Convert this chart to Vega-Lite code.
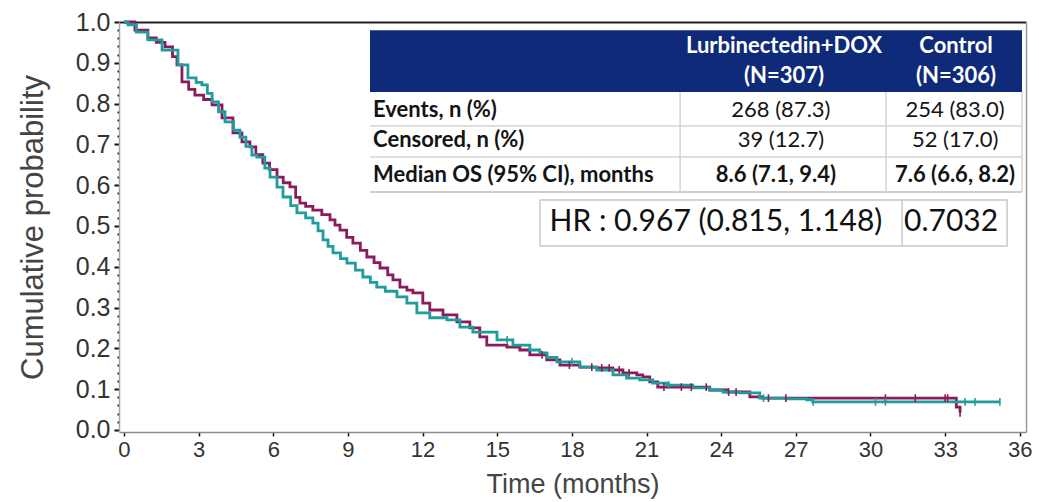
{
  "$schema": "https://vega.github.io/schema/vega-lite/v6.json",
  "width": 907,
  "height": 410,
  "autosize": "none",
  "padding": {"left": 119, "top": 22, "right": 13, "bottom": 70},
  "background": "white",
  "config": {
    "view": {"stroke": null},
    "font": "Liberation Sans",
    "text": {"font": "Lato"}
  },
  "datasets": {
    "curves": [
      {"arm": "Lurbinectedin+DOX", "t": 0, "p": 1.0},
      {"arm": "Lurbinectedin+DOX", "t": 0.44, "p": 0.98},
      {"arm": "Lurbinectedin+DOX", "t": 0.96, "p": 0.961},
      {"arm": "Lurbinectedin+DOX", "t": 1.3, "p": 0.95},
      {"arm": "Lurbinectedin+DOX", "t": 1.65, "p": 0.939},
      {"arm": "Lurbinectedin+DOX", "t": 1.95, "p": 0.915},
      {"arm": "Lurbinectedin+DOX", "t": 2.13, "p": 0.895},
      {"arm": "Lurbinectedin+DOX", "t": 2.33, "p": 0.853},
      {"arm": "Lurbinectedin+DOX", "t": 2.6, "p": 0.835},
      {"arm": "Lurbinectedin+DOX", "t": 2.85, "p": 0.821},
      {"arm": "Lurbinectedin+DOX", "t": 3.2, "p": 0.81},
      {"arm": "Lurbinectedin+DOX", "t": 3.54, "p": 0.797},
      {"arm": "Lurbinectedin+DOX", "t": 3.94, "p": 0.765},
      {"arm": "Lurbinectedin+DOX", "t": 4.38, "p": 0.728},
      {"arm": "Lurbinectedin+DOX", "t": 4.74, "p": 0.706},
      {"arm": "Lurbinectedin+DOX", "t": 5.06, "p": 0.694},
      {"arm": "Lurbinectedin+DOX", "t": 5.3, "p": 0.675},
      {"arm": "Lurbinectedin+DOX", "t": 5.58, "p": 0.654},
      {"arm": "Lurbinectedin+DOX", "t": 5.85, "p": 0.638},
      {"arm": "Lurbinectedin+DOX", "t": 6.15, "p": 0.62},
      {"arm": "Lurbinectedin+DOX", "t": 6.4, "p": 0.606},
      {"arm": "Lurbinectedin+DOX", "t": 6.67, "p": 0.596},
      {"arm": "Lurbinectedin+DOX", "t": 6.9, "p": 0.57},
      {"arm": "Lurbinectedin+DOX", "t": 7.07, "p": 0.556},
      {"arm": "Lurbinectedin+DOX", "t": 7.3, "p": 0.548},
      {"arm": "Lurbinectedin+DOX", "t": 7.59, "p": 0.539},
      {"arm": "Lurbinectedin+DOX", "t": 7.95, "p": 0.528},
      {"arm": "Lurbinectedin+DOX", "t": 8.28, "p": 0.515},
      {"arm": "Lurbinectedin+DOX", "t": 8.48, "p": 0.502},
      {"arm": "Lurbinectedin+DOX", "t": 8.68, "p": 0.49},
      {"arm": "Lurbinectedin+DOX", "t": 8.95, "p": 0.472},
      {"arm": "Lurbinectedin+DOX", "t": 9.2, "p": 0.458},
      {"arm": "Lurbinectedin+DOX", "t": 9.5, "p": 0.44},
      {"arm": "Lurbinectedin+DOX", "t": 9.76, "p": 0.424},
      {"arm": "Lurbinectedin+DOX", "t": 10.05, "p": 0.41},
      {"arm": "Lurbinectedin+DOX", "t": 10.29, "p": 0.397},
      {"arm": "Lurbinectedin+DOX", "t": 10.6, "p": 0.38},
      {"arm": "Lurbinectedin+DOX", "t": 10.81, "p": 0.368},
      {"arm": "Lurbinectedin+DOX", "t": 11.09, "p": 0.35},
      {"arm": "Lurbinectedin+DOX", "t": 11.37, "p": 0.343},
      {"arm": "Lurbinectedin+DOX", "t": 11.61, "p": 0.336},
      {"arm": "Lurbinectedin+DOX", "t": 12.01, "p": 0.311},
      {"arm": "Lurbinectedin+DOX", "t": 12.29, "p": 0.294},
      {"arm": "Lurbinectedin+DOX", "t": 12.82, "p": 0.282},
      {"arm": "Lurbinectedin+DOX", "t": 13.38, "p": 0.265},
      {"arm": "Lurbinectedin+DOX", "t": 13.9, "p": 0.25},
      {"arm": "Lurbinectedin+DOX", "t": 14.3, "p": 0.228},
      {"arm": "Lurbinectedin+DOX", "t": 14.58, "p": 0.208},
      {"arm": "Lurbinectedin+DOX", "t": 15.39, "p": 0.203},
      {"arm": "Lurbinectedin+DOX", "t": 15.91, "p": 0.196},
      {"arm": "Lurbinectedin+DOX", "t": 16.31, "p": 0.184},
      {"arm": "Lurbinectedin+DOX", "t": 16.99, "p": 0.172},
      {"arm": "Lurbinectedin+DOX", "t": 17.52, "p": 0.159},
      {"arm": "Lurbinectedin+DOX", "t": 18.32, "p": 0.154},
      {"arm": "Lurbinectedin+DOX", "t": 19.0, "p": 0.152},
      {"arm": "Lurbinectedin+DOX", "t": 19.65, "p": 0.147},
      {"arm": "Lurbinectedin+DOX", "t": 20.05, "p": 0.14},
      {"arm": "Lurbinectedin+DOX", "t": 20.61, "p": 0.135},
      {"arm": "Lurbinectedin+DOX", "t": 20.85, "p": 0.13},
      {"arm": "Lurbinectedin+DOX", "t": 21.13, "p": 0.118},
      {"arm": "Lurbinectedin+DOX", "t": 21.45, "p": 0.105},
      {"arm": "Lurbinectedin+DOX", "t": 23.54, "p": 0.098},
      {"arm": "Lurbinectedin+DOX", "t": 24.23, "p": 0.093},
      {"arm": "Lurbinectedin+DOX", "t": 25.15, "p": 0.081},
      {"arm": "Lurbinectedin+DOX", "t": 25.67, "p": 0.078},
      {"arm": "Lurbinectedin+DOX", "t": 33.45, "p": 0.056},
      {"arm": "Lurbinectedin+DOX", "t": 33.6, "p": 0.042},
      {"arm": "Control", "t": 0, "p": 1.0},
      {"arm": "Control", "t": 0.16, "p": 0.993},
      {"arm": "Control", "t": 0.5, "p": 0.975},
      {"arm": "Control", "t": 0.96, "p": 0.956},
      {"arm": "Control", "t": 1.53, "p": 0.931},
      {"arm": "Control", "t": 2.17, "p": 0.895},
      {"arm": "Control", "t": 2.57, "p": 0.863},
      {"arm": "Control", "t": 2.9, "p": 0.852},
      {"arm": "Control", "t": 3.13, "p": 0.846},
      {"arm": "Control", "t": 3.35, "p": 0.825},
      {"arm": "Control", "t": 3.54, "p": 0.804},
      {"arm": "Control", "t": 3.8, "p": 0.78},
      {"arm": "Control", "t": 4.06, "p": 0.755},
      {"arm": "Control", "t": 4.4, "p": 0.735},
      {"arm": "Control", "t": 4.66, "p": 0.718},
      {"arm": "Control", "t": 4.9, "p": 0.695},
      {"arm": "Control", "t": 5.14, "p": 0.674},
      {"arm": "Control", "t": 5.34, "p": 0.669},
      {"arm": "Control", "t": 5.66, "p": 0.642},
      {"arm": "Control", "t": 5.87, "p": 0.62},
      {"arm": "Control", "t": 6.15, "p": 0.595},
      {"arm": "Control", "t": 6.39, "p": 0.571},
      {"arm": "Control", "t": 6.7, "p": 0.55},
      {"arm": "Control", "t": 6.95, "p": 0.532},
      {"arm": "Control", "t": 7.3, "p": 0.52},
      {"arm": "Control", "t": 7.59, "p": 0.507},
      {"arm": "Control", "t": 7.8, "p": 0.488},
      {"arm": "Control", "t": 8.0, "p": 0.466},
      {"arm": "Control", "t": 8.2, "p": 0.45},
      {"arm": "Control", "t": 8.4, "p": 0.434},
      {"arm": "Control", "t": 8.7, "p": 0.42},
      {"arm": "Control", "t": 8.96, "p": 0.409},
      {"arm": "Control", "t": 9.3, "p": 0.392},
      {"arm": "Control", "t": 9.6, "p": 0.375},
      {"arm": "Control", "t": 9.9, "p": 0.362},
      {"arm": "Control", "t": 10.16, "p": 0.35},
      {"arm": "Control", "t": 10.5, "p": 0.34},
      {"arm": "Control", "t": 10.97, "p": 0.326},
      {"arm": "Control", "t": 11.37, "p": 0.311},
      {"arm": "Control", "t": 11.77, "p": 0.287},
      {"arm": "Control", "t": 12.29, "p": 0.275},
      {"arm": "Control", "t": 12.98, "p": 0.27},
      {"arm": "Control", "t": 13.5, "p": 0.252},
      {"arm": "Control", "t": 14.02, "p": 0.24},
      {"arm": "Control", "t": 14.99, "p": 0.221},
      {"arm": "Control", "t": 15.63, "p": 0.208},
      {"arm": "Control", "t": 16.31, "p": 0.196},
      {"arm": "Control", "t": 16.71, "p": 0.189},
      {"arm": "Control", "t": 17.0, "p": 0.178},
      {"arm": "Control", "t": 17.4, "p": 0.167},
      {"arm": "Control", "t": 18.32, "p": 0.154},
      {"arm": "Control", "t": 19.0, "p": 0.147},
      {"arm": "Control", "t": 19.65, "p": 0.135},
      {"arm": "Control", "t": 20.2, "p": 0.127},
      {"arm": "Control", "t": 20.73, "p": 0.123},
      {"arm": "Control", "t": 21.25, "p": 0.115},
      {"arm": "Control", "t": 21.82, "p": 0.11},
      {"arm": "Control", "t": 22.86, "p": 0.103},
      {"arm": "Control", "t": 23.54, "p": 0.098},
      {"arm": "Control", "t": 24.07, "p": 0.093},
      {"arm": "Control", "t": 24.75, "p": 0.091},
      {"arm": "Control", "t": 25.55, "p": 0.078},
      {"arm": "Control", "t": 26.64, "p": 0.076},
      {"arm": "Control", "t": 27.44, "p": 0.074},
      {"arm": "Control", "t": 27.68, "p": 0.069},
      {"arm": "Control", "t": 35.2, "p": 0.069}
    ],
    "censored": [
      {"arm": "Lurbinectedin+DOX", "t": 16.8, "p": 0.184},
      {"arm": "Lurbinectedin+DOX", "t": 17.9, "p": 0.159},
      {"arm": "Lurbinectedin+DOX", "t": 18.8, "p": 0.154},
      {"arm": "Lurbinectedin+DOX", "t": 19.2, "p": 0.152},
      {"arm": "Lurbinectedin+DOX", "t": 19.5, "p": 0.152},
      {"arm": "Lurbinectedin+DOX", "t": 19.9, "p": 0.147},
      {"arm": "Lurbinectedin+DOX", "t": 20.3, "p": 0.14},
      {"arm": "Lurbinectedin+DOX", "t": 21.7, "p": 0.105},
      {"arm": "Lurbinectedin+DOX", "t": 22.4, "p": 0.105},
      {"arm": "Lurbinectedin+DOX", "t": 22.8, "p": 0.105},
      {"arm": "Lurbinectedin+DOX", "t": 23.4, "p": 0.105},
      {"arm": "Lurbinectedin+DOX", "t": 24.3, "p": 0.093},
      {"arm": "Lurbinectedin+DOX", "t": 24.6, "p": 0.093},
      {"arm": "Lurbinectedin+DOX", "t": 25.9, "p": 0.078},
      {"arm": "Lurbinectedin+DOX", "t": 26.6, "p": 0.078},
      {"arm": "Lurbinectedin+DOX", "t": 30.6, "p": 0.078},
      {"arm": "Lurbinectedin+DOX", "t": 31.8, "p": 0.078},
      {"arm": "Lurbinectedin+DOX", "t": 33.0, "p": 0.078},
      {"arm": "Lurbinectedin+DOX", "t": 33.1, "p": 0.078},
      {"arm": "Lurbinectedin+DOX", "t": 33.6, "p": 0.042},
      {"arm": "Control", "t": 15.4, "p": 0.221},
      {"arm": "Control", "t": 18.0, "p": 0.167},
      {"arm": "Control", "t": 21.9, "p": 0.11},
      {"arm": "Control", "t": 25.7, "p": 0.078},
      {"arm": "Control", "t": 27.7, "p": 0.069},
      {"arm": "Control", "t": 30.2, "p": 0.069},
      {"arm": "Control", "t": 30.6, "p": 0.069},
      {"arm": "Control", "t": 33.8, "p": 0.069},
      {"arm": "Control", "t": 34.2, "p": 0.069},
      {"arm": "Control", "t": 35.2, "p": 0.069}
    ],
    "header": [
      {"arm": "Lurbinectedin+DOX", "n": "(N=307)"},
      {"arm": "Control", "n": "(N=306)"}
    ],
    "rows": [
      {"row": "Events, n (%)", "lurb": "268 (87.3)", "ctrl": "254 (83.0)"},
      {"row": "Censored, n (%)", "lurb": "39 (12.7)", "ctrl": "52 (17.0)"},
      {"row": "Median OS (95% CI), months", "lurb": "8.6 (7.1, 9.4)", "ctrl": "7.6 (6.6, 8.2)"}
    ],
    "hr": [
      {"hr": "HR : 0.967 (0.815, 1.148)", "pvalue": "0.7032"}
    ],
    "frame": [{"part": "table"}]
  },
  "layer": [
    {
      "data": {"name": "curves"},
      "mark": {"type": "line", "interpolate": "step-after", "strokeWidth": 2.8},
      "encoding": {
        "x": {
          "field": "t", "type": "quantitative",
          "scale": {"domain": [-0.2, 36.25], "nice": false, "zero": false},
          "axis": {
            "orient": "bottom", "title": "Time (months)",
            "values": [0, 3, 6, 9, 12, 15, 18, 21, 24, 27, 30, 33, 36],
            "format": "d", "grid": false, "labelFlush": false,
            "domainColor": "#8c8c8c", "domainWidth": 1.5,
            "tickColor": "#111111", "tickSize": 4, "tickWidth": 1.5,
            "labelFont": "Liberation Sans", "labelFontSize": 22, "labelColor": "#333333", "labelPadding": 3,
            "titleFont": "Liberation Sans", "titleFontSize": 27, "titleFontWeight": "normal", "titleColor": "#444444", "titlePadding": 11
          }
        },
        "y": {
          "field": "p", "type": "quantitative",
          "scale": {"domain": [-0.005, 1.0], "nice": false, "zero": false},
          "axis": {
            "orient": "left", "title": "Cumulative probability",
            "values": [0, 0.02, 0.04, 0.06, 0.08, 0.1, 0.12, 0.14, 0.16, 0.18, 0.2, 0.22, 0.24, 0.26, 0.28, 0.3, 0.32, 0.34, 0.36, 0.38, 0.4, 0.42, 0.44, 0.46, 0.48, 0.5, 0.52, 0.54, 0.56, 0.58, 0.6, 0.62, 0.64, 0.66, 0.68, 0.7, 0.72, 0.74, 0.76, 0.78, 0.8, 0.82, 0.84, 0.86, 0.88, 0.9, 0.92, 0.94, 0.96, 0.98, 1.0],
            "labelExpr": "abs(datum.value * 10 - round(datum.value * 10)) < 0.001 ? format(datum.value, '.1f') : ''",
            "labelOverlap": false, "labelFlush": false, "grid": false,
            "domainColor": "#a8a8a8", "domainWidth": 1.5,
            "tickColor": "#111111",
            "tickSize": {"condition": {"test": "abs(datum.value * 10 - round(datum.value * 10)) < 0.001", "value": 5}, "value": 2},
            "tickWidth": 2,
            "labelFont": "Liberation Sans", "labelFontSize": 25, "labelColor": "#333333", "labelPadding": 4,
            "titleFont": "Liberation Sans", "titleFontSize": 31, "titleFontWeight": "normal", "titleColor": "#444444", "titlePadding": 26
          }
        },
        "color": {
          "field": "arm", "type": "nominal",
          "scale": {"domain": ["Lurbinectedin+DOX", "Control"], "range": ["#8c1b5d", "#1f9c9c"]},
          "legend": null
        }
      }
    },
    {
      "data": {"name": "censored"},
      "mark": {"type": "point", "shape": "M0,-1L0,1", "filled": false, "size": 60, "strokeWidth": 1.6, "opacity": 1},
      "encoding": {
        "x": {
          "field": "t", "type": "quantitative",
          "axis": {"orient": "top", "title": null, "labels": false, "ticks": false, "grid": false, "domainColor": "#222222", "domainWidth": 2}
        },
        "y": {
          "field": "p", "type": "quantitative",
          "axis": {"orient": "right", "title": null, "labels": false, "ticks": false, "grid": false, "domainColor": "#9a9a9a", "domainWidth": 1.5}
        },
        "color": {"field": "arm", "type": "nominal", "legend": null}
      }
    },
    {
      "data": {"name": "frame"},
      "layer": [
        {
          "mark": {"type": "rect", "color": "#0f2a78"},
          "encoding": {
            "x": {"datum": 9.887, "axis": null}, "x2": {"datum": 36.09},
            "y": {"datum": 0.98, "axis": null}, "y2": {"datum": 0.8284}
          }
        },
        {
          "mark": {"type": "rule", "color": "#d4d4d4", "strokeWidth": 1.5},
          "encoding": {"x": {"datum": 9.887, "axis": null}, "x2": {"datum": 36.09}, "y": {"datum": 0.745, "axis": null}}
        },
        {
          "mark": {"type": "rule", "color": "#d4d4d4", "strokeWidth": 1.5},
          "encoding": {"x": {"datum": 9.887, "axis": null}, "x2": {"datum": 36.09}, "y": {"datum": 0.669, "axis": null}}
        },
        {
          "mark": {"type": "rule", "color": "#cfcfcf", "strokeWidth": 2},
          "encoding": {"x": {"datum": 9.887, "axis": null}, "x2": {"datum": 36.09}, "y": {"datum": 0.5833, "axis": null}}
        },
        {
          "mark": {"type": "rule", "color": "#d4d4d4", "strokeWidth": 1.5},
          "encoding": {"x": {"datum": 22.35, "axis": null}, "y": {"datum": 0.8284, "axis": null}, "y2": {"datum": 0.5833}}
        },
        {
          "mark": {"type": "rule", "color": "#d4d4d4", "strokeWidth": 1.5},
          "encoding": {"x": {"datum": 30.62, "axis": null}, "y": {"datum": 0.8284, "axis": null}, "y2": {"datum": 0.5833}}
        },
        {
          "mark": {"type": "rule", "color": "#d4d4d4", "strokeWidth": 1.5},
          "encoding": {"x": {"datum": 36.09, "axis": null}, "y": {"datum": 0.8284, "axis": null}, "y2": {"datum": 0.5833}}
        },
        {
          "mark": {"type": "rect", "fill": "white", "stroke": "#c8c8c8", "strokeWidth": 1.5},
          "encoding": {
            "x": {"datum": 16.72, "axis": null}, "x2": {"datum": 35.49},
            "y": {"datum": 0.5637, "axis": null}, "y2": {"datum": 0.4509}
          }
        },
        {
          "mark": {"type": "rule", "color": "#c8c8c8", "strokeWidth": 1.5},
          "encoding": {"x": {"datum": 31.27, "axis": null}, "y": {"datum": 0.5637, "axis": null}, "y2": {"datum": 0.4509}}
        }
      ]
    },
    {
      "data": {"name": "header"},
      "transform": [{"filter": "datum.arm === 'Lurbinectedin+DOX'"}],
      "encoding": {"x": {"datum": 26.525, "axis": null}},
      "layer": [
        {
          "mark": {"type": "text", "font": "Lato", "fontWeight": "bold", "fontSize": 22, "color": "white", "align": "center", "baseline": "middle"},
          "encoding": {"y": {"datum": 0.9412, "axis": null}, "text": {"field": "arm"}}
        },
        {
          "mark": {"type": "text", "font": "Lato", "fontWeight": "bold", "fontSize": 22, "color": "white", "align": "center", "baseline": "middle"},
          "encoding": {"y": {"datum": 0.8676, "axis": null}, "text": {"field": "n"}}
        }
      ]
    },
    {
      "data": {"name": "header"},
      "transform": [{"filter": "datum.arm === 'Control'"}],
      "encoding": {"x": {"datum": 33.44, "axis": null}},
      "layer": [
        {
          "mark": {"type": "text", "font": "Lato", "fontWeight": "bold", "fontSize": 22, "color": "white", "align": "center", "baseline": "middle"},
          "encoding": {"y": {"datum": 0.9412, "axis": null}, "text": {"field": "arm"}}
        },
        {
          "mark": {"type": "text", "font": "Lato", "fontWeight": "bold", "fontSize": 22, "color": "white", "align": "center", "baseline": "middle"},
          "encoding": {"y": {"datum": 0.8676, "axis": null}, "text": {"field": "n"}}
        }
      ]
    },
    {
      "data": {"name": "rows"},
      "transform": [{"filter": "datum.row === 'Events, n (%)'"}],
      "encoding": {"y": {"datum": 0.7843, "axis": null}},
      "layer": [
        {
          "mark": {"type": "text", "font": "Lato", "fontWeight": "bold", "fontSize": 22, "color": "#141414", "align": "left", "baseline": "middle"},
          "encoding": {"x": {"datum": 10.01, "axis": null}, "text": {"field": "row"}}
        },
        {
          "mark": {"type": "text", "font": "Lato", "fontSize": 22, "color": "#141414", "align": "center", "baseline": "middle"},
          "encoding": {"x": {"datum": 26.4, "axis": null}, "text": {"field": "lurb"}}
        },
        {
          "mark": {"type": "text", "font": "Lato", "fontSize": 22, "color": "#141414", "align": "center", "baseline": "middle"},
          "encoding": {"x": {"datum": 33.4, "axis": null}, "text": {"field": "ctrl"}}
        }
      ]
    },
    {
      "data": {"name": "rows"},
      "transform": [{"filter": "datum.row === 'Censored, n (%)'"}],
      "encoding": {"y": {"datum": 0.7108, "axis": null}},
      "layer": [
        {
          "mark": {"type": "text", "font": "Lato", "fontWeight": "bold", "fontSize": 22, "color": "#141414", "align": "left", "baseline": "middle"},
          "encoding": {"x": {"datum": 10.01, "axis": null}, "text": {"field": "row"}}
        },
        {
          "mark": {"type": "text", "font": "Lato", "fontSize": 22, "color": "#141414", "align": "center", "baseline": "middle"},
          "encoding": {"x": {"datum": 26.4, "axis": null}, "text": {"field": "lurb"}}
        },
        {
          "mark": {"type": "text", "font": "Lato", "fontSize": 22, "color": "#141414", "align": "center", "baseline": "middle"},
          "encoding": {"x": {"datum": 33.4, "axis": null}, "text": {"field": "ctrl"}}
        }
      ]
    },
    {
      "data": {"name": "rows"},
      "transform": [{"filter": "datum.row === 'Median OS (95% CI), months'"}],
      "encoding": {"y": {"datum": 0.625, "axis": null}},
      "layer": [
        {
          "mark": {"type": "text", "font": "Lato", "fontWeight": "bold", "fontSize": 22, "color": "#141414", "align": "left", "baseline": "middle"},
          "encoding": {"x": {"datum": 10.01, "axis": null}, "text": {"field": "row"}}
        },
        {
          "mark": {"type": "text", "font": "Lato", "fontWeight": "bold", "fontSize": 22, "color": "#141414", "align": "center", "baseline": "middle"},
          "encoding": {"x": {"datum": 26.2, "axis": null}, "text": {"field": "lurb"}}
        },
        {
          "mark": {"type": "text", "font": "Lato", "fontWeight": "bold", "fontSize": 22, "color": "#141414", "align": "center", "baseline": "middle"},
          "encoding": {"x": {"datum": 33.4, "axis": null}, "text": {"field": "ctrl"}}
        }
      ]
    },
    {
      "data": {"name": "hr"},
      "encoding": {"y": {"datum": 0.5098, "axis": null}},
      "layer": [
        {
          "mark": {"type": "text", "font": "Lato", "fontSize": 30, "color": "#111111", "align": "center", "baseline": "middle"},
          "encoding": {"x": {"datum": 23.79, "axis": null}, "text": {"field": "hr"}}
        },
        {
          "mark": {"type": "text", "font": "Lato", "fontSize": 30, "color": "#111111", "align": "center", "baseline": "middle"},
          "encoding": {"x": {"datum": 33.24, "axis": null}, "text": {"field": "pvalue"}}
        }
      ]
    }
  ]
}
